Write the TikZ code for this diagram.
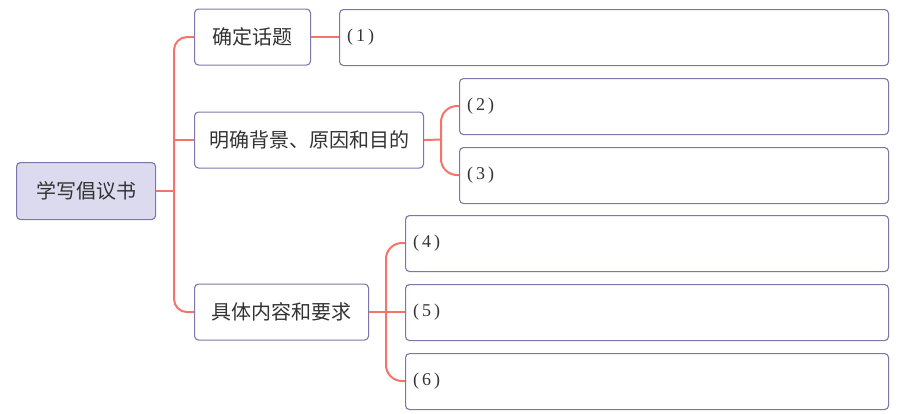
\documentclass[tikz,border=0pt]{standalone}
\usepackage{fontspec}
\newfontfamily\cjk{Noto Sans CJK SC}
\newfontfamily\numf{Liberation Serif}
\definecolor{boxline}{HTML}{7E76AA}
\definecolor{rootfill}{HTML}{DCDAEF}
\definecolor{connred}{HTML}{F3746A}
\definecolor{txt}{HTML}{333333}
\tikzset{
  base/.style={draw=boxline, line width=1.1pt, rounded corners=4pt, anchor=north west, inner sep=0pt, text=txt},
  topic/.style={base, font=\cjk\fontsize{20}{24}\selectfont, align=center},
  conn/.style={draw=connred, line width=2pt}
}
\begin{document}
\begin{tikzpicture}[x=1pt,y=-1pt]
\useasboundingbox (0,0) rectangle (914,413);
% connectors coordinates
\coordinate (tr) at (174,190.5);
\coordinate (b2) at (441,139.5);
\coordinate (b3) at (386,311.5);
% root and topics
\node[topic, fill=rootfill, minimum width=139pt, minimum height=57pt] (root) at (16,162) {学写倡议书};
\node[topic, minimum width=116pt, minimum height=56pt] (t1) at (194,8.5) {确定话题};
\node[topic, minimum width=229pt, minimum height=56pt] (t2) at (194,111.5) {明确背景、原因和目的};
\node[topic, minimum width=174pt, minimum height=56pt] (t3) at (194,283.5) {具体内容和要求};
% answer boxes
\node[base, minimum width=549pt, minimum height=56pt] (a1) at (339,9) {};
\node[base, minimum width=429pt, minimum height=56pt] (a2) at (459,78) {};
\node[base, minimum width=429pt, minimum height=56pt] (a3) at (459,147) {};
\node[base, minimum width=483pt, minimum height=56pt] (a4) at (405,215) {};
\node[base, minimum width=483pt, minimum height=56pt] (a5) at (405,284) {};
\node[base, minimum width=483pt, minimum height=56pt] (a6) at (405,353) {};
% labels
\foreach \i/\y in {1/37,2/106,3/175,4/243,5/312,6/381}{
  \node[font=\numf\fontsize{18}{20}\selectfont, text=txt, anchor=west, inner sep=0pt] (l\i) at ([xshift=8pt]a\i.west |- 0,\y) {(\,\i\,)};
}
% connectors
\draw[conn] (root.east |- tr) -- (tr);
\draw[conn, rounded corners=13pt] (t1.west) -- (tr |- t1.west) -- (tr |- t3.west) -- (t3.west);
\draw[conn] (tr |- t2.west) -- (t2.west);
\draw[conn] (t1.east) -- (a1.west |- t1.east);
\draw[conn] (t2.east) -- (b2);
\draw[conn, rounded corners=16pt] (a2.west |- l2) -- (b2 |- l2) -- (b2 |- l3) -- (a3.west |- l3);
\draw[conn] (t3.east) -- (a5.west |- t3.east);
\draw[conn, rounded corners=16pt] (a4.west |- l4) -- (b3 |- l4) -- (b3 |- l6) -- (a6.west |- l6);
\end{tikzpicture}
\end{document}
